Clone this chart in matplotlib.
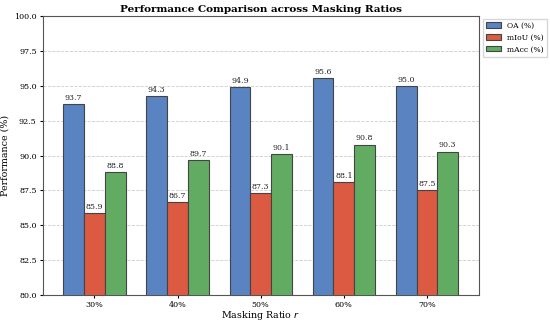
import numpy as np
import matplotlib
matplotlib.use("Agg")
import matplotlib.pyplot as plt

plt.rcParams['font.family'] = 'DejaVu Serif'

ratios = ['30%', '40%', '50%', '60%', '70%']
oa = [93.7, 94.3, 94.9, 95.6, 95.0]
miou = [85.9, 86.7, 87.3, 88.1, 87.5]
macc = [88.8, 89.7, 90.1, 90.8, 90.3]

series = [('OA (%)', oa, '#5a83c2'),
          ('mIoU (%)', miou, '#dc5a42'),
          ('mAcc (%)', macc, '#62ab62')]

fig = plt.figure(figsize=(5.5, 3.23), dpi=100)
ax = fig.add_axes([0.078, 0.087, 0.792, 0.862])

x = np.arange(len(ratios))
w = 0.25
for i, (name, vals, col) in enumerate(series):
    bars = ax.bar(x + (i - 1) * w, vals, w, label=name, color=col,
                  edgecolor='#444444', linewidth=0.8, zorder=3)
    for b, v in zip(bars, vals):
        ax.text(b.get_x() + b.get_width() / 2, v + 0.15, f'{v:.1f}',
                ha='center', va='bottom', fontsize=5.7, color='#222222')

ax.set_ylim(80, 100)
ax.set_yticks(np.arange(80, 100.1, 2.5))
ax.set_xlim(-0.62, 4.62)
ax.set_xticks(x)
ax.set_xticklabels(ratios)
ax.tick_params(labelsize=5.8, length=2.5, pad=2)
ax.grid(axis='y', linestyle='--', color='#cccccc', linewidth=0.6, zorder=0)
for s in ax.spines.values():
    s.set_color('#555555')

ax.set_ylabel('Performance (%)', fontsize=6.8, labelpad=3)
ax.set_xlabel('Masking Ratio $r$', fontsize=6.8, labelpad=0)
ax.set_title('Performance Comparison across Masking Ratios', fontsize=7.5,
             fontweight='bold', pad=3)
ax.legend(loc='upper left', bbox_to_anchor=(1.005, 1.0), fontsize=5.5,
          frameon=True, edgecolor='#cccccc', handlelength=2.0,
          borderaxespad=0.3, fancybox=False)

fig.savefig('out.png', dpi=100)
